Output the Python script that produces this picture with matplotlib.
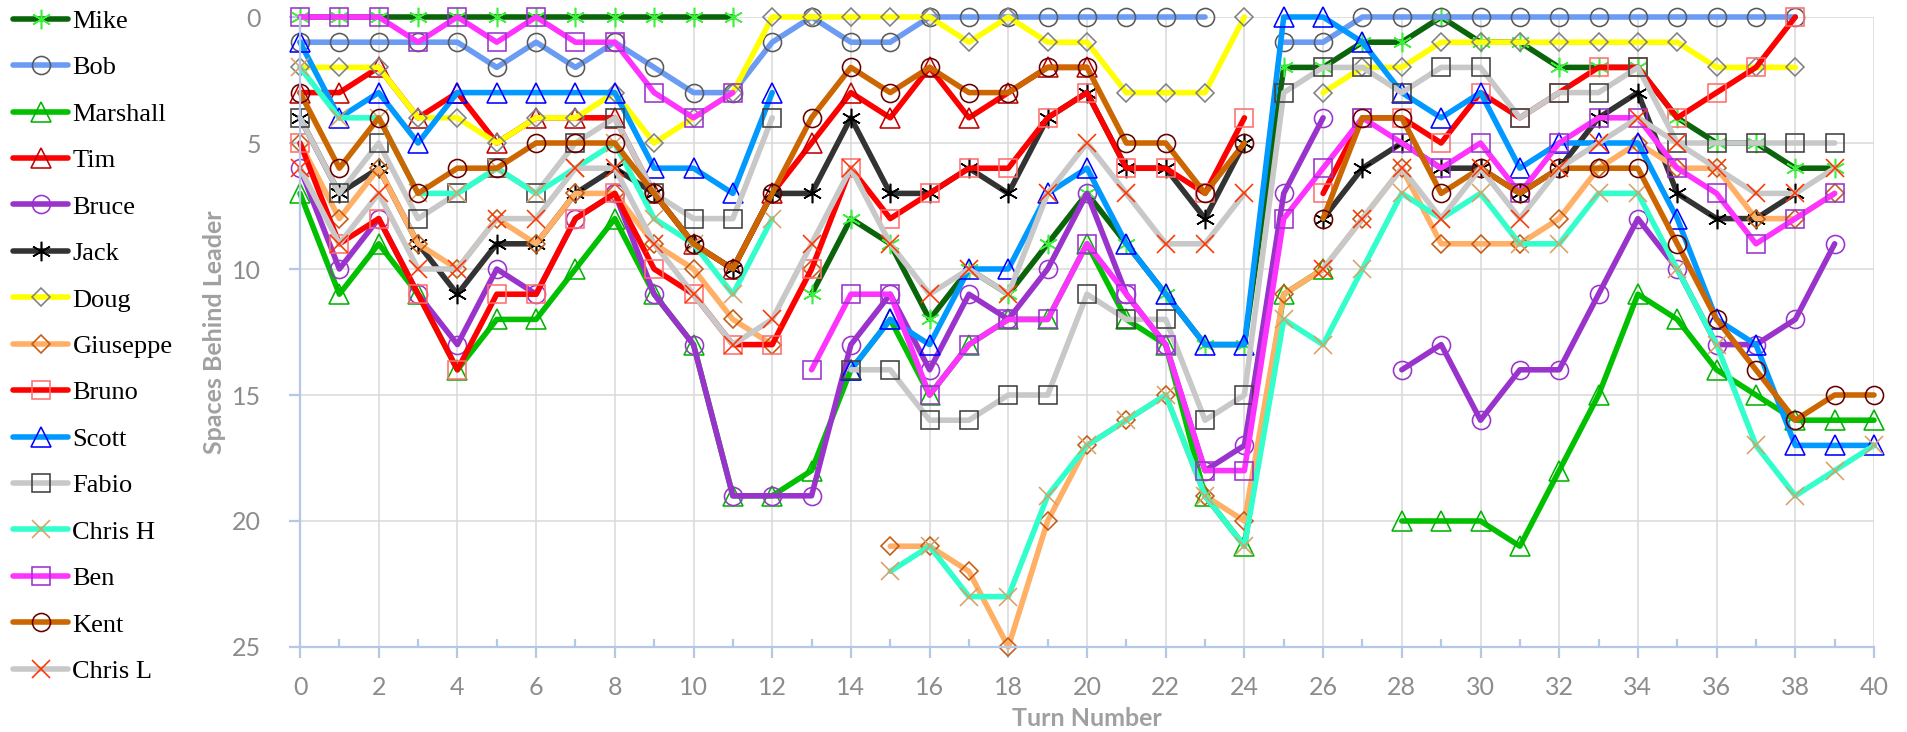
import numpy as np
import matplotlib
matplotlib.use("Agg")
import matplotlib.pyplot as plt

nan = np.nan
turns = list(range(41))

names = ["Mike", "Bob", "Marshall", "Tim", "Bruce", "Jack", "Doug", "Giuseppe",
         "Bruno", "Scott", "Fabio", "Chris H", "Ben", "Kent", "Chris L"]

mike = [0, 0, 0, 0, 0, 0, 0, 0, 0, 0, 0, 0, nan, 11, 8, 9, 12, 10, 11, 9, 7, 9, 11, 13, 13,
        2, 2, 1, 1, 0, 1, 1, 2, 2, 2, 4, 5, 5, 6, 6, nan]
bob = [1, 1, 1, 1, 1, 2, 1, 2, 1, 2, 3, 3, 1, 0, 1, 1, 0, 0, 0, 0, 0, 0, 0, 0, nan,
       1, 1, 0, 0, 0, 0, 0, 0, 0, 0, 0, 0, 0, 0, nan, nan]
marshall = [7, 11, 9, 11, 14, 12, 12, 10, 8, 11, 13, 19, 19, 18, 14, 12, 15, 13, 12, 12, 9, 12, 13, 19, 21,
            11, 10, nan, 20, 20, 20, 21, 18, 15, 11, 12, 14, 15, 16, 16, 16]
tim = [3, 3, 2, 4, 3, 5, 4, 4, 4, 7, 9, 10, 7, 5, 3, 4, 2, 4, 3, 2, 2, nan, nan, nan, nan,
       nan, nan, nan, nan, nan, nan, nan, nan, nan, nan, nan, nan, nan, nan, nan, nan]
bruce = [6, 10, 8, 11, 13, 10, 11, 8, 7, 11, 13, 19, 19, 19, 13, 11, 14, 11, 12, 10, 7, 11, 13, 18, 17,
         7, 4, nan, 14, 13, 16, 14, 14, 11, 8, 10, 13, 13, 12, 9, nan]
jack = [4, 7, 6, 9, 11, 9, 9, 7, 6, 7, 9, 10, 7, 7, 4, 7, 7, 6, 7, 4, 3, 6, 6, 8, 5,
        nan, 8, 6, 5, 6, 6, 7, 6, 4, 3, 7, 8, 8, 7, nan, nan]
doug = [2, 2, 2, 4, 4, 5, 4, 4, 3, 5, 4, 3, 0, 0, 0, 0, 0, 1, 0, 1, 1, 3, 3, 3, 0,
        nan, 3, 2, 2, 1, 1, 1, 1, 1, 1, 1, 2, 2, 2, nan, nan]
giuseppe = [5, 8, 6, 9, 10, 8, 9, 7, 7, 9, 10, 12, 13, 10, nan, 21, 21, 22, 25, 20, 17, 16, 15, 19, 20,
            11, 10, 8, 6, 9, 9, 9, 8, 6, 5, 6, 6, 8, 8, 7, nan]
bruno = [5, 9, 8, 11, 14, 11, 11, 8, 7, 10, 11, 13, 13, 10, 6, 8, 7, 6, 6, 4, 3, 6, 6, 7, 4,
         nan, 7, 4, 4, 5, 3, 4, 3, 2, 2, 4, 3, 2, 0, nan, nan]
scott = [1, 4, 3, 5, 3, 3, 3, 3, 3, 6, 6, 7, 3, nan, 14, 12, 13, 10, 10, 7, 6, 9, 11, 13, 13,
         0, 0, 1, 3, 4, 3, 6, 5, 5, 5, 8, 12, 13, 17, 17, 17]
fabio = [4, 7, 5, 8, 7, 6, 7, 5, 4, 7, 8, 8, 4, nan, 14, 14, 16, 16, 15, 15, 11, 12, 12, 16, 15,
         3, 2, 2, 3, 2, 2, 4, 3, 3, 2, 5, 5, 5, 5, 5, nan]
chris_h = [2, 4, 4, 7, 7, 6, 7, 6, 5, 8, 9, 11, 8, nan, nan, 22, 21, 23, 23, 19, 17, 16, 15, 19, 21,
           12, 13, 10, 7, 8, 7, 9, 9, 7, 7, 10, 13, 17, 19, 18, 17]
ben = [0, 0, 0, 1, 0, 1, 0, 1, 1, 3, 4, 3, nan, 14, 11, 11, 15, 13, 12, 12, 9, 11, 13, 18, 18,
       8, 6, 4, 5, 6, 5, 7, 5, 4, 4, 6, 7, 9, 8, 7, nan]
kent = [3, 6, 4, 7, 6, 6, 5, 5, 5, 7, 9, 10, 7, 4, 2, 3, 2, 3, 3, 2, 2, 5, 5, 7, 5,
        nan, 8, 4, 4, 7, 6, 7, 6, 6, 6, 9, 12, 14, 16, 15, 15]
chris_l = [6, 9, 7, 10, 10, 8, 8, 6, 6, 9, 11, 13, 12, 9, 6, 9, 11, 10, 11, 7, 5, 7, 9, 9, 7,
           nan, 10, 8, 6, 8, 6, 8, 6, 5, 4, 5, 6, 7, 7, 6, nan]

series = [mike, bob, marshall, tim, bruce, jack, doug, giuseppe,
          bruno, scott, fabio, chris_h, ben, kent, chris_l]

x_ticks = list(range(0, 41, 2))
y_ticks = [0, 5, 10, 15, 20, 25]

# styles: line colour, marker, marker edge colour, marker size (pt)
AST = (6, 2, 0)
styles = {
    "Mike":     ("#0A640A", AST, "#3CF03C", 14),
    "Bob":      ("#6B9BF2", "o", "#595959", 13),
    "Marshall": ("#00C000", "^", "#00B400", 14),
    "Tim":      ("#FF0000", "^", "#C00000", 14),
    "Bruce":    ("#9933CC", "o", "#9933CC", 13),
    "Jack":     ("#333333", AST, "#000000", 14),
    "Doug":     ("#FFFF00", "D", "#808080", 9.2),
    "Giuseppe": ("#FFB066", "D", "#C55A11", 9.2),
    "Bruno":    ("#FF0000", "s", "#FF6E6E", 13),
    "Scott":    ("#0099FF", "^", "#0000FF", 14),
    "Fabio":    ("#C8C8C8", "s", "#404040", 13),
    "Chris H":  ("#33FFCC", "x", "#D9A066", 13),
    "Ben":      ("#FF33FF", "s", "#9933CC", 13),
    "Kent":     ("#CC6600", "o", "#660000", 13),
    "Chris L":  ("#C8C8C8", "x", "#FF3300", 13),
}

W, H = 1907, 732
fig = plt.figure(figsize=(W / 100, H / 100), dpi=100)
x0, x1, y0, y1 = 300, 1874, 17, 647
ax = fig.add_axes([x0 / W, 1 - y1 / H, (x1 - x0) / W, (y1 - y0) / H])

handles = []
for name, vals in zip(names, series):
    lc, mk, mc, ms = styles[name]
    ln, = ax.plot(turns, vals, color=lc, lw=4.0, marker=mk, ms=ms, mfc="none",
                  mec=mc, mew=1.15, clip_on=False, solid_joinstyle="round",
                  solid_capstyle="round", label=name)
    handles.append(ln)

ax.set_xlim(0, 40)
ax.set_ylim(25, 0)
ax.set_xticks(x_ticks)
ax.set_xticks(list(range(1, 40, 2)), minor=True)
ax.set_yticks(y_ticks)
ax.set_axisbelow(True)
ax.grid(which="major", color="#D9D9D9", lw=1.1)

axis_col = "#B4C7E7"
for s in ("top", "right"):
    ax.spines[s].set_visible(False)
for s in ("left", "bottom"):
    ax.spines[s].set_color(axis_col)
    ax.spines[s].set_linewidth(1.6)

tick_col = "#8C8C8C"
ax.tick_params(axis="x", which="major", direction="out", length=8, width=1.6,
               color=axis_col, pad=13, labelsize=18, labelcolor=tick_col)
ax.tick_params(axis="x", which="minor", direction="in", length=6, width=1.6,
               color=axis_col)
ax.tick_params(axis="y", which="major", direction="out", length=8, width=1.6,
               color=axis_col, pad=20, labelsize=18, labelcolor=tick_col)
for lab in ax.get_xticklabels() + ax.get_yticklabels():
    lab.set_family("Lato")

ax.set_xlabel("Turn Number", fontsize=18, fontweight="bold", color="#A0A0A0",
              family="Lato", va="center")
ax.xaxis.set_label_coords(0.5, (y1 - 719) / (y1 - y0))
ax.set_ylabel("Spaces Behind Leader", fontsize=18, fontweight="bold", color="#A0A0A0",
              family="Lato", va="center")
ax.yaxis.set_label_coords((214 - x0) / (x1 - x0), 0.5)

fig.legend(handles, names, loc="upper left", bbox_to_anchor=(13 / W, 1 - 9.5 / H),
           frameon=False, prop={"family": "Liberation Serif", "size": 19},
           handlelength=2.1, handletextpad=0.15, labelspacing=0.87,
           borderpad=0, borderaxespad=0, numpoints=1)

fig.savefig("out.png", dpi=100)
